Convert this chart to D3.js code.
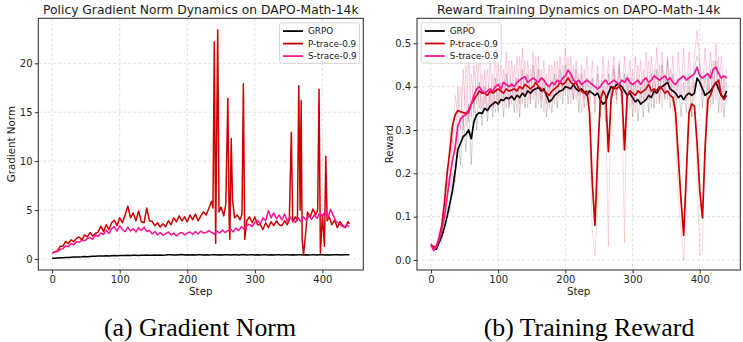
<!DOCTYPE html>
<html><head><meta charset="utf-8">
<script src="https://cdn.jsdelivr.net/npm/d3@7"></script>
<style>body{margin:0;background:#fff}svg{display:block}</style>
</head><body>
<svg id="c" width="743" height="342"></svg>
<script>
// ---------------- DATA ----------------
const seriesNames = ["GRPO", "P-trace-0.9", "S-trace-0.9"];
const stepsEvery4 = d3.range(0, 441, 4);
const xTicks = [0, 100, 200, 300, 400];
const gradYTicks = [0, 5, 10, 15, 20];
const rewardYTicks = [0.0, 0.1, 0.2, 0.3, 0.4, 0.5];

// (a) gradient norm
const gradGrpo = [0.07,0.08,0.1,0.12,0.13,0.15,0.16,0.18,0.19,0.2,
 0.21,0.22,0.24,0.23,0.26,0.27,0.28,0.3,0.29,0.31,
 0.32,0.31,0.33,0.34,0.33,0.35,0.36,0.34,0.37,0.36,
 0.37,0.38,0.36,0.39,0.38,0.4,0.37,0.39,0.4,0.38,
 0.41,0.39,0.4,0.42,0.44,0.4,0.41,0.43,0.45,0.41,
 0.42,0.4,0.43,0.41,0.44,0.42,0.4,0.43,0.41,0.42,
 0.44,0.41,0.43,0.4,0.42,0.44,0.41,0.43,0.42,0.4,
 0.43,0.45,0.41,0.42,0.44,0.4,0.43,0.41,0.42,0.44,
 0.41,0.43,0.4,0.42,0.44,0.41,0.43,0.42,0.4,0.43,
 0.41,0.44,0.42,0.4,0.43,0.41,0.42,0.44,0.41,0.43,
 0.42,0.4,0.44,0.41,0.43,0.42,0.44,0.41,0.43,0.42,0.43];
const gradStrace = [0.6,0.7,0.75,1.0,1.05,1.35,1.25,1.55,1.45,1.75,
 1.7,1.9,1.85,2.1,2.2,2.0,2.45,2.3,2.65,2.5,
 2.95,2.6,3.1,3.3,2.85,3.4,3.0,2.8,3.25,2.85,
 3.1,2.75,3.2,2.9,3.25,2.8,2.9,2.55,2.8,2.45,
 2.7,2.4,2.6,2.75,2.45,2.65,2.35,2.6,2.7,2.45,
 2.65,2.75,2.5,2.8,2.55,2.85,2.65,2.7,2.9,2.7,
 2.55,2.85,2.65,2.95,2.7,2.9,3.05,2.75,3.15,2.9,
 3.3,3.05,3.4,3.55,3.3,3.75,3.95,3.55,4.2,3.9,
 4.95,4.2,4.7,4.1,4.5,4.0,4.6,3.85,4.3,3.9,
 3.75,4.2,3.85,4.3,3.95,4.4,4.05,4.5,4.15,4.7,
 4.35,4.9,4.2,5.05,4.45,3.85,3.65,3.4,3.25,3.45,3.3];
const gradPtraceSteps = [0,4,8,12,16,20,24,28,32,36,40,44,48,52,56,60,64,68,72,76,
 80,84,88,92,96,100,104,108,112,116,120,124,128,132,136,140,144,148,152,156,
 160,164,168,172,176,180,184,188,192,196,200,204,208,212,216,220,224,228,232,236,
 238,240,242,245,247,250,254,257,260,262,263,265,267,270,274,278,281,283,285,288,
 292,296,300,304,308,312,316,320,324,328,332,336,340,344,348,351,354,356,360,363,
 365,367,368.5,370,372,375,378,382,386,390,393,395,397,400,403,405,407,410,414,418,
 422,426,430,434,438,440];
const gradPtrace = [0.6,0.75,0.85,1.3,1.3,1.8,1.55,1.95,1.75,2.1,2.25,1.95,2.45,2.25,2.7,2.35,2.6,2.75,3.35,2.8,
 3.5,3.0,3.7,3.95,3.4,4.2,3.7,4.5,5.4,4.2,4.7,3.9,4.9,3.8,3.7,5.2,3.9,3.85,3.4,3.7,
 3.25,3.6,3.3,3.9,3.5,4.2,3.8,4.4,3.9,4.3,3.8,4.5,4.0,4.6,3.9,4.4,4.8,4.5,5.2,5.9,
 5.2,22.2,1.6,23.4,4.8,5.3,4.4,5.6,16.4,4.0,2.0,12.3,6.0,4.2,4.5,4.0,4.6,17.9,2.0,3.9,
 4.3,3.7,4.3,3.5,3.5,3.0,3.7,3.2,3.8,3.4,3.9,3.5,3.4,3.9,3.5,4.0,12.95,3.8,4.3,3.9,
 17.7,5.0,16.2,2.0,0.4,2.5,4.8,4.3,5.1,4.5,5.0,17.35,0.6,4.5,1.3,10.5,3.9,4.3,3.5,4.0,
 3.2,3.8,3.4,3.2,3.8,3.6];

// (b) training reward: smoothed curves
const rewardGrpo = [0.035,0.026,0.025,0.04,0.055,0.075,0.1,0.13,0.16,0.205,
 0.255,0.27,0.285,0.29,0.3,0.28,0.32,0.335,0.34,0.338,
 0.35,0.345,0.355,0.36,0.365,0.36,0.37,0.368,0.375,0.372,
 0.378,0.37,0.38,0.375,0.385,0.378,0.39,0.385,0.392,0.395,
 0.398,0.39,0.395,0.38,0.365,0.37,0.38,0.385,0.39,0.392,
 0.4,0.398,0.395,0.405,0.395,0.39,0.395,0.388,0.38,0.39,
 0.385,0.38,0.385,0.37,0.36,0.365,0.385,0.4,0.395,0.405,
 0.405,0.4,0.39,0.38,0.385,0.375,0.365,0.37,0.36,0.365,
 0.37,0.38,0.375,0.39,0.385,0.395,0.4,0.405,0.41,0.395,
 0.39,0.385,0.375,0.38,0.37,0.38,0.385,0.38,0.385,0.42,
 0.41,0.395,0.38,0.385,0.39,0.4,0.41,0.395,0.38,0.375,0.39];
const rewardPtrace = [0.035,0.03,0.032,0.05,0.08,0.13,0.2,0.25,0.31,0.335,
 0.345,0.342,0.34,0.338,0.345,0.36,0.37,0.38,0.39,0.385,
 0.385,0.38,0.39,0.385,0.39,0.395,0.39,0.385,0.395,0.39,
 0.392,0.395,0.39,0.4,0.395,0.405,0.4,0.395,0.4,0.41,
 0.4,0.395,0.39,0.385,0.38,0.39,0.395,0.4,0.41,0.405,
 0.41,0.42,0.41,0.405,0.41,0.395,0.39,0.385,0.39,0.34,
 0.18,0.08,0.24,0.37,0.39,0.38,0.25,0.37,0.4,0.395,
 0.4,0.39,0.254,0.38,0.39,0.385,0.38,0.39,0.385,0.39,
 0.395,0.405,0.39,0.395,0.39,0.4,0.395,0.385,0.39,0.38,
 0.375,0.34,0.24,0.14,0.057,0.2,0.34,0.36,0.355,0.27,
 0.16,0.097,0.26,0.37,0.38,0.4,0.408,0.415,0.38,0.37,0.38];
const rewardStrace = [0.035,0.022,0.03,0.045,0.07,0.1,0.145,0.19,0.23,0.26,
 0.31,0.325,0.332,0.335,0.34,0.36,0.38,0.395,0.4,0.39,
 0.385,0.39,0.395,0.39,0.4,0.405,0.395,0.41,0.405,0.4,
 0.405,0.4,0.41,0.415,0.42,0.423,0.41,0.415,0.42,0.415,
 0.41,0.42,0.415,0.405,0.4,0.41,0.405,0.415,0.41,0.42,
 0.425,0.438,0.43,0.415,0.41,0.415,0.405,0.41,0.415,0.41,
 0.405,0.4,0.395,0.4,0.41,0.415,0.405,0.41,0.415,0.41,
 0.405,0.415,0.41,0.42,0.41,0.405,0.41,0.415,0.405,0.415,
 0.42,0.41,0.415,0.425,0.42,0.415,0.42,0.425,0.415,0.42,
 0.41,0.405,0.415,0.42,0.425,0.415,0.42,0.425,0.43,0.445,
 0.425,0.42,0.425,0.43,0.42,0.44,0.445,0.43,0.42,0.425,0.42];
// (b) raw (unsmoothed) rewards, drawn faint
const rawGrpo = [0.04,0.02,0.03,0.05,0.04,0.09,0.12,0.11,0.2,0.18,
 0.3,0.22,0.33,0.25,0.36,0.22,0.38,0.3,0.41,0.31,
 0.4,0.32,0.39,0.33,0.42,0.34,0.41,0.33,0.43,0.35,
 0.41,0.34,0.42,0.33,0.44,0.35,0.43,0.36,0.45,0.35,
 0.44,0.35,0.42,0.33,0.4,0.34,0.43,0.35,0.44,0.36,
 0.45,0.36,0.43,0.37,0.44,0.34,0.43,0.35,0.42,0.36,
 0.42,0.34,0.43,0.33,0.4,0.32,0.43,0.36,0.44,0.37,
 0.45,0.36,0.43,0.34,0.42,0.33,0.41,0.32,0.4,0.33,
 0.42,0.34,0.43,0.35,0.44,0.36,0.45,0.37,0.46,0.35,
 0.43,0.34,0.42,0.33,0.41,0.34,0.43,0.33,0.44,0.47,
 0.45,0.35,0.43,0.34,0.44,0.36,0.46,0.34,0.42,0.33,0.41];
const rawPtrace = [0.04,0.03,0.02,0.07,0.06,0.17,0.15,0.3,0.27,0.38,
 0.33,0.4,0.3,0.45,0.32,0.43,0.34,0.46,0.35,0.43,
 0.36,0.44,0.35,0.43,0.34,0.45,0.36,0.44,0.35,0.46,
 0.36,0.45,0.34,0.47,0.36,0.46,0.35,0.44,0.37,0.47,
 0.36,0.44,0.34,0.43,0.35,0.45,0.36,0.46,0.37,0.45,
 0.38,0.47,0.36,0.45,0.37,0.43,0.34,0.44,0.35,0.3,
 0.07,0.01,0.12,0.4,0.43,0.35,0.03,0.42,0.45,0.36,
 0.44,0.36,0.04,0.43,0.35,0.44,0.34,0.45,0.36,0.44,
 0.37,0.46,0.35,0.44,0.36,0.45,0.35,0.43,0.37,0.44,
 0.35,0.3,0.15,0.07,0.0,0.12,0.4,0.33,0.41,0.2,
 0.01,0.02,0.3,0.43,0.35,0.46,0.37,0.47,0.34,0.42,0.36];
const rawStrace = [0.04,0.02,0.03,0.06,0.05,0.14,0.2,0.17,0.28,0.25,
 0.4,0.3,0.44,0.31,0.47,0.33,0.45,0.36,0.48,0.35,
 0.44,0.34,0.46,0.35,0.47,0.36,0.45,0.37,0.48,0.36,
 0.46,0.37,0.47,0.36,0.49,0.38,0.46,0.37,0.48,0.38,
 0.47,0.37,0.46,0.36,0.45,0.37,0.46,0.38,0.47,0.39,
 0.49,0.39,0.47,0.37,0.46,0.38,0.45,0.37,0.47,0.38,
 0.46,0.36,0.45,0.37,0.47,0.38,0.46,0.37,0.47,0.38,
 0.46,0.37,0.47,0.38,0.46,0.36,0.47,0.38,0.46,0.37,
 0.48,0.37,0.47,0.38,0.49,0.37,0.48,0.38,0.47,0.39,
 0.47,0.37,0.48,0.38,0.49,0.37,0.48,0.39,0.47,0.53,
 0.46,0.38,0.49,0.39,0.48,0.4,0.5,0.39,0.47,0.38,0.44];

const colors = ["#000000", "#cc0000", "#ff1493"];

// ---------------- DRAW ----------------
const svg = d3.select("#c");
const FONT = "DejaVu Sans, sans-serif";

function panel(opts) {
  const {left, right, top, bottom, xDomain, yDomain, yTicks, yFmt, title, ylabel, ylabelX, idx} = opts;
  const x = d3.scaleLinear().domain(xDomain).range([left, right]);
  const y = d3.scaleLinear().domain(yDomain).range([bottom, top]);
  const g = svg.append("g");
  const grid = g.append("g").attr("stroke", "#d9d9d9").attr("stroke-width", 0.8).attr("stroke-dasharray", "2.8,2.2");
  grid.selectAll(".gx").data(xTicks).join("line")
    .attr("x1", d => x(d)).attr("x2", d => x(d)).attr("y1", top).attr("y2", bottom);
  grid.selectAll(".gy").data(yTicks).join("line")
    .attr("y1", d => y(d)).attr("y2", d => y(d)).attr("x1", left).attr("x2", right);
  const xa = g.append("g").attr("transform", `translate(0,${bottom})`)
    .call(d3.axisBottom(x).tickValues(xTicks).tickSize(3.5).tickPadding(2.3).tickFormat(d3.format("d")));
  const ya = g.append("g").attr("transform", `translate(${left},0)`)
    .call(d3.axisLeft(y).tickValues(yTicks).tickSize(3.5).tickPadding(2.3).tickFormat(yFmt));
  [xa, ya].forEach(a => {
    a.select(".domain").remove();
    a.selectAll("line").attr("stroke", "#333");
    a.selectAll("text").attr("fill", "#262626").style("font-family", FONT).style("font-size", "10px");
  });
  const cid = "clip" + idx;
  svg.append("clipPath").attr("id", cid).append("rect")
    .attr("x", left).attr("y", top).attr("width", right - left).attr("height", bottom - top);
  const plot = g.append("g").attr("clip-path", `url(#${cid})`);
  g.append("rect").attr("x", left).attr("y", top).attr("width", right - left).attr("height", bottom - top)
    .attr("fill", "none").attr("stroke", "#262626").attr("stroke-width", 1);
  svg.append("text").attr("x", (left + right) / 2).attr("y", 13.6).attr("text-anchor", "middle")
    .style("font-family", FONT).style("font-size", "12.3px").attr("fill", "#1a1a1a").text(title);
  svg.append("text").attr("x", (left + right) / 2).attr("y", 295.3).attr("text-anchor", "middle")
    .style("font-family", FONT).style("font-size", "10.3px").attr("fill", "#1a1a1a").text("Step");
  svg.append("text").attr("transform", `translate(${ylabelX},${(top + bottom) / 2}) rotate(-90)`)
    .attr("text-anchor", "middle")
    .style("font-family", FONT).style("font-size", "10.3px").attr("fill", "#1a1a1a").text(ylabel);
  return {x, y, plot};
}

function legend(x0, y0) {
  const lg = svg.append("g").attr("transform", `translate(${x0},${y0})`);
  lg.append("rect").attr("width", 80).attr("height", 40.5).attr("rx", 2.5)
    .attr("fill", "#fff").attr("fill-opacity", 0.85).attr("stroke", "#cccccc").attr("stroke-width", 0.8);
  seriesNames.forEach((n, i) => {
    const yy = 8.3 + i * 12.5;
    lg.append("line").attr("x1", 3.5).attr("x2", 23.5).attr("y1", yy).attr("y2", yy)
      .attr("stroke", colors[i]).attr("stroke-width", 1.8);
    lg.append("text").attr("x", 28.5).attr("y", yy + 3.2)
      .style("font-family", FONT).style("font-size", "8.8px").attr("fill", "#1a1a1a").text(n);
  });
}

// ---- panel (a)
const A = panel({left: 38.3, right: 363.3, top: 18.3, bottom: 270, xDomain: [-20.5, 460.5],
  yDomain: [-1.13, 24.6], yTicks: gradYTicks, yFmt: d3.format("d"),
  title: "Policy Gradient Norm Dynamics on DAPO-Math-14k", ylabel: "Gradient Norm", ylabelX: 14.8, idx: 0});
const lineA = (xs, ys) => d3.line().x((d, i) => A.x(xs[i])).y(d => A.y(d))(ys);
A.plot.append("path").attr("d", lineA(stepsEvery4, gradGrpo)).attr("fill", "none")
  .attr("stroke", colors[0]).attr("stroke-width", 1.5).attr("stroke-linejoin", "round");
A.plot.append("path").attr("d", lineA(gradPtraceSteps, gradPtrace)).attr("fill", "none")
  .attr("stroke", colors[1]).attr("stroke-width", 1.5).attr("stroke-linejoin", "round");
A.plot.append("path").attr("d", lineA(stepsEvery4, gradStrace)).attr("fill", "none")
  .attr("stroke", colors[2]).attr("stroke-width", 1.5).attr("stroke-linejoin", "round");
legend(279.5, 22.8);

// ---- panel (b)
const B = panel({left: 417, right: 740.3, top: 18.3, bottom: 270, xDomain: [-20.8, 460.3],
  yDomain: [-0.0231, 0.5578], yTicks: rewardYTicks, yFmt: d3.format(".1f"),
  title: "Reward Training Dynamics on DAPO-Math-14k", ylabel: "Reward", ylabelX: 392.8, idx: 1});
const lineB = ys => d3.line().x((d, i) => B.x(stepsEvery4[i])).y(d => B.y(d))(ys);
const rawSets = [rawGrpo, rawPtrace, rawStrace];
const smoothSets = [rewardGrpo, rewardPtrace, rewardStrace];
const rawAlpha = [0.18, 0.14, 0.22];
[0, 1, 2].forEach(i => {
  B.plot.append("path").attr("d", lineB(rawSets[i])).attr("fill", "none")
    .attr("stroke", colors[i]).attr("stroke-opacity", rawAlpha[i]).attr("stroke-width", 1);
  B.plot.append("path").attr("d", lineB(smoothSets[i])).attr("fill", "none")
    .attr("stroke", colors[i]).attr("stroke-width", 1.7).attr("stroke-linejoin", "round");
});
legend(421.3, 22.7);

// ---- captions
svg.append("text").attr("x", 200).attr("y", 336).attr("text-anchor", "middle")
  .style("font-family", "Liberation Serif, Times New Roman, serif").style("font-size", "25.8px")
  .attr("fill", "#000").text("(a) Gradient Norm");
svg.append("text").attr("x", 589).attr("y", 336).attr("text-anchor", "middle")
  .style("font-family", "Liberation Serif, Times New Roman, serif").style("font-size", "25.8px")
  .attr("fill", "#000").text("(b) Training Reward");
</script>
</body></html>
